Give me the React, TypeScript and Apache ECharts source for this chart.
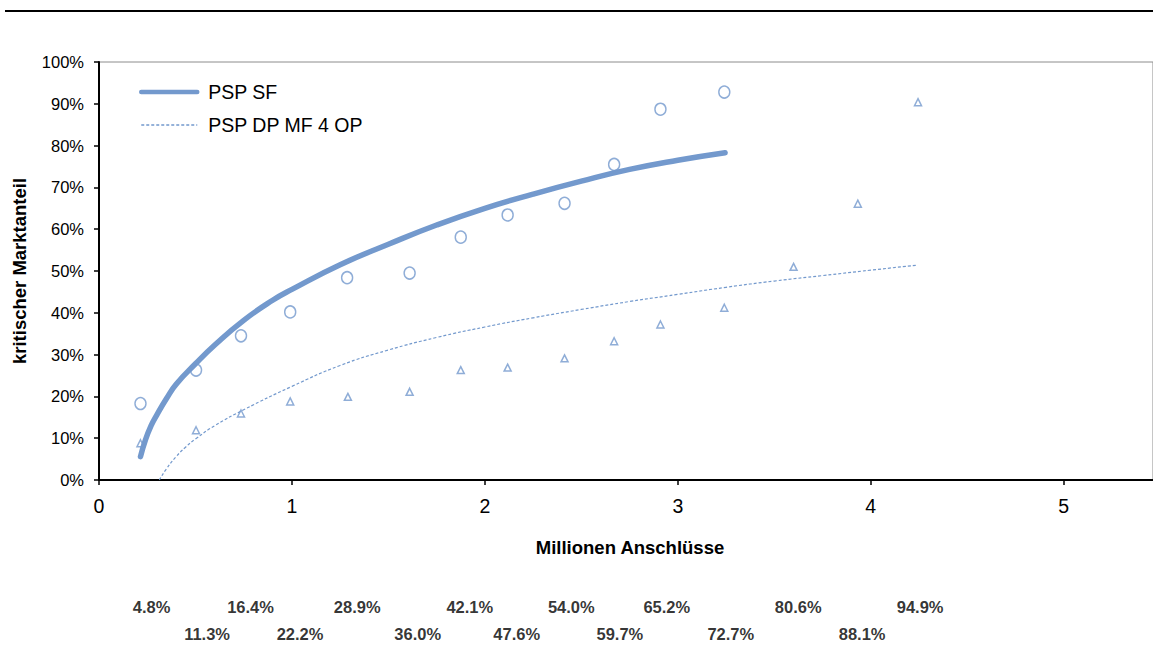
import React, { useEffect, useRef } from "react";
import * as echarts from "echarts";

// Measured points (million connections, critical market share in %)
const circleX = [0.215, 0.503, 0.736, 0.991, 1.286, 1.61, 1.875, 2.118, 2.413, 2.67, 2.91, 3.241];
const circleY = [18.3, 26.3, 34.5, 40.2, 48.4, 49.5, 58.1, 63.4, 66.2, 75.5, 88.7, 92.8];
const triangleX = [0.215, 0.503, 0.736, 0.991, 1.29, 1.61, 1.875, 2.118, 2.413, 2.67, 2.91, 3.241, 3.6, 3.933, 4.245];
const triangleY = [8.8, 11.9, 15.9, 18.8, 19.9, 21.1, 26.3, 26.9, 29.1, 33.2, 37.2, 41.2, 51.0, 66.1, 90.4];

// Fitted curves
const sfX = [0.215, 0.24, 0.27, 0.3, 0.35, 0.4, 0.5, 0.6, 0.75, 0.9, 1.0, 1.25, 1.5, 1.75, 2.0, 2.25, 2.5, 2.75, 3.0, 3.245];
const sfY = [5.6, 9.5, 13.0, 15.6, 19.5, 22.9, 27.8, 32.3, 38.2, 43.0, 45.6, 51.5, 56.4, 61.0, 65.0, 68.4, 71.5, 74.3, 76.5, 78.3];
const dpX = [0.313, 0.35, 0.4, 0.45, 0.5, 0.6, 0.75, 1.0, 1.25, 1.5, 1.75, 2.0, 2.25, 2.5, 2.75, 3.0, 3.25, 3.5, 3.75, 4.0, 4.24];
const dpY = [0, 2.7, 5.6, 7.9, 9.8, 13.0, 16.8, 22.4, 27.4, 31.1, 34.1, 36.6, 38.8, 40.8, 42.7, 44.4, 46.1, 47.6, 48.9, 50.2, 51.4];

// Share of connections shown under the chart
const shareLabels = ["4.8%", "11.3%", "16.4%", "22.2%", "28.9%", "36.0%", "42.1%", "47.6%", "54.0%", "59.7%", "65.2%", "72.7%", "80.6%", "88.1%", "94.9%"];

const seriesNames = ["PSP SF", "PSP DP MF 4 OP"];
const xTicks = [0, 1, 2, 3, 4, 5];

const BLUE = "#7399cd";
const FONT = "'Liberation Sans', Arial, sans-serif";

export default function App() {
  const ref = useRef<HTMLDivElement>(null);

  useEffect(() => {
    if (!ref.current) return;
    const chart = echarts.init(ref.current, undefined, { renderer: "svg" });

    const option: any = {
      animation: false,
      backgroundColor: "#fff",
      textStyle: { fontFamily: FONT },
      graphic: [
        {
          type: "line",
          shape: { x1: 5, y1: 11, x2: 1153, y2: 11 },
          style: { stroke: "#000", lineWidth: 2 },
        },
      ],
      legend: {
        data: [
          { name: seriesNames[0], lineStyle: { width: 4.5, color: BLUE } },
          { name: seriesNames[1], lineStyle: { width: 1.3, color: BLUE, type: [3, 2] } },
        ],
        orient: "vertical",
        left: 134,
        top: 77,
        itemWidth: 56,
        itemHeight: 22,
        itemGap: 13,
        itemStyle: { opacity: 0 },
        textStyle: { fontSize: 19.5, color: "#000", fontFamily: FONT, padding: [0, 0, 0, 6] },
      },
      grid: [
        { left: 99, right: -2, top: 62, height: 418, show: true, borderColor: "#8c8c8c", borderWidth: 1, backgroundColor: "transparent" },
        { left: 99, right: -2, top: 593, height: 60 },
      ],
      xAxis: [
        {
          type: "value",
          gridIndex: 0,
          min: 0,
          max: 5.463,
          interval: 1,
          axisLine: { show: true, lineStyle: { color: "#000", width: 2 } },
          axisTick: { show: true, length: 5, lineStyle: { color: "#000", width: 1.5 } },
          splitLine: { show: false },
          axisLabel: {
            color: "#000",
            fontSize: 19.5,
            fontFamily: FONT,
            margin: 16,
            showMaxLabel: false,
            formatter: (v: number) => (xTicks.includes(v) ? String(v) : ""),
          },
          name: "Millionen Anschlüsse",
          nameLocation: "middle",
          nameGap: 58,
          nameTextStyle: { fontSize: 18.5, fontWeight: "bold", color: "#000", fontFamily: FONT, padding: [0, 0, 0, 8] },
        },
        {
          type: "value",
          gridIndex: 1,
          min: -1.37,
          max: 122.2,
          show: false,
        },
      ],
      yAxis: [
        {
          type: "value",
          gridIndex: 0,
          min: 0,
          max: 100,
          interval: 10,
          axisLine: { show: true, lineStyle: { color: "#000", width: 2 } },
          axisTick: { show: true, length: 5, lineStyle: { color: "#000", width: 1.5 } },
          splitLine: { show: false },
          axisLabel: { color: "#000", fontSize: 16.5, fontFamily: FONT, margin: 15, formatter: "{value}%" },
          name: "kritischer Marktanteil",
          nameLocation: "middle",
          nameGap: 70,
          nameTextStyle: { fontSize: 18.5, fontWeight: "bold", color: "#000", fontFamily: FONT },
        },
        {
          type: "value",
          gridIndex: 1,
          min: 0,
          max: 2,
          inverse: true,
          show: false,
        },
      ],
      series: [
        {
          name: seriesNames[0],
          type: "line",
          data: sfX.map((x, i) => [x, sfY[i]]),
          symbol: "none",
          smooth: true,
          lineStyle: { color: BLUE, width: 5.5, cap: "round" },
          itemStyle: { color: BLUE },
          z: 2,
        },
        {
          name: seriesNames[1],
          type: "line",
          data: dpX.map((x, i) => [x, dpY[i]]),
          symbol: "none",
          smooth: true,
          lineStyle: { color: BLUE, width: 1.2, type: [3, 2] },
          itemStyle: { color: BLUE },
          z: 2,
        },
        {
          name: "SF Messwerte",
          type: "scatter",
          data: circleX.map((x, i) => [x, circleY[i]]),
          symbol: "circle",
          symbolSize: [11, 12],
          itemStyle: { color: "rgba(255,255,255,0)", borderColor: BLUE, borderWidth: 1.5 },
          z: 3,
        },
        {
          name: "DP Messwerte",
          type: "scatter",
          data: triangleX.map((x, i) => [x, triangleY[i]]),
          symbol: "triangle",
          symbolSize: 7,
          itemStyle: { color: "rgba(255,255,255,0)", borderColor: BLUE, borderWidth: 1.5 },
          z: 3,
        },
        {
          name: "Anteil",
          type: "scatter",
          xAxisIndex: 1,
          yAxisIndex: 1,
          data: shareLabels.map((s, i) => [parseFloat(s), i % 2 === 0 ? 0.5 : 1.5]),
          symbolSize: 1,
          itemStyle: { color: "rgba(255,255,255,0)" },
          label: {
            show: true,
            position: "inside",
            color: "#000",
            fontSize: 16.5,
            fontWeight: "bold",
            fontFamily: FONT,
            formatter: (p: any) => shareLabels[p.dataIndex],
          },
          silent: true,
        },
      ],
    };

    chart.setOption(option);
    return () => chart.dispose();
  }, []);

  return (
    <div
      ref={ref}
      style={{ position: "fixed", left: 0, top: 0, width: 1153, height: 648, background: "#fff" }}
    />
  );
}
